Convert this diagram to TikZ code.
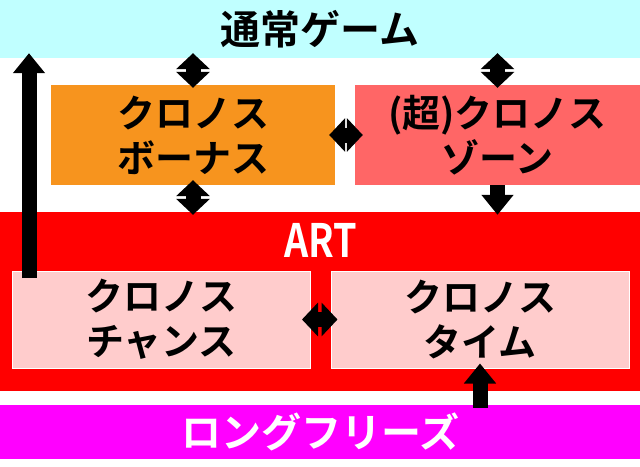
\documentclass[tikz,border=0pt]{standalone}
\usepackage{fontspec}
\setmainfont{Noto Sans CJK JP}[BoldFont={Noto Sans CJK JP Bold}]
\usetikzlibrary{positioning,calc,arrows.meta}
\definecolor{normalcyan}{RGB}{192,255,255}
\definecolor{bonusorange}{RGB}{247,148,30}
\definecolor{zonepink}{RGB}{255,102,102}
\definecolor{artred}{RGB}{255,0,0}
\definecolor{chancepink}{RGB}{255,204,204}
\definecolor{freezemagenta}{RGB}{255,0,255}

\begin{document}
\begin{tikzpicture}[x=1pt, y=-1pt,
        band/.style={rectangle, inner sep=0pt, minimum width=640pt, text centered, font=\fontsize{40}{45}\selectfont\bfseries},
        mode block/.style={rectangle, inner sep=0pt, minimum height=100pt, align=center, font=\fontsize{38}{45}\selectfont\bfseries},
        art block/.style={mode block, draw=white, line width=1pt, fill=chancepink, minimum width=298pt, minimum height=97pt},
        line/.style={draw, line width=15pt, -{Triangle[width=31pt,length=20pt]}},
        dline/.style={draw, line width=15pt, {Triangle[width=33pt,length=16pt]}-{Triangle[width=33pt,length=16pt]}}]
        \useasboundingbox (0,0) rectangle (640,466);
        \node [band, fill=normalcyan, minimum height=58pt] (normal) at (320,29) {通常ゲーム};
        \node [mode block, fill=bonusorange, minimum width=284pt] (bonus) at (193,135) {クロノス\\ボーナス};
        \node [mode block, fill=zonepink, minimum width=285pt] (zone) at (497.5,135) {(超)クロノス\\ゾーン};
        \node [band, fill=artred, minimum height=179pt] (art) at (320,301.5) {};
        \node [font=\fontsize{46}{46}\selectfont\bfseries, text=white, inner sep=0pt] (artlabel) at (321,240) {\scalebox{0.82}[1]{ART}};
        \node [art block] (chance) at (161.5,319.5) {クロノス\\チャンス};
        \node [art block] (time) at (480,319.5) {クロノス\\タイム};
        \node [band, fill=freezemagenta, minimum height=54pt, text=white] (freeze) at (320,432) {ロングフリーズ};
        \coordinate (loopstart) at (29,278);

        \path [dline, shorten <=-5pt, shorten >=-3pt] (normal.south -| bonus.north) -- (bonus.north);
        \path [dline, shorten <=-5pt, shorten >=-3pt] (normal.south -| zone.north) -- (zone.north);
        \path [dline, shorten <=-6pt, shorten >=-8pt] (bonus.east) -- (zone.west);
        \path [dline, shorten <=-5pt, shorten >=-3pt] (bonus.south) -- (bonus.south |- art.north);
        \path [line, shorten >=-3pt] (zone.south) -- (zone.south |- art.north);
        \path [dline, shorten <=-9pt, shorten >=-7pt] (chance.east) -- (time.west);
        \path [line, shorten <=-3pt, shorten >=-5pt] (time.south |- freeze.north) -- (time.south);
        \path [line, shorten >=-5pt] (loopstart) -- (loopstart |- normal.south);
    \end{tikzpicture}
\end{document}
